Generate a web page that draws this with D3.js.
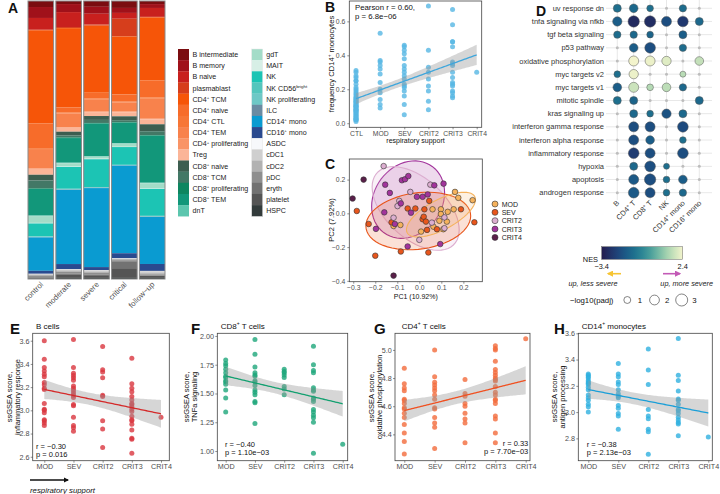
<!DOCTYPE html>
<html>
<head>
<meta charset="utf-8">
<script src="https://cdn.jsdelivr.net/npm/d3@7"></script>
<style>
  body { margin: 0; background: #fff; }
  text { font-family: "Liberation Sans", Arial, Helvetica, sans-serif; }
</style>
</head>
<body>
<svg id="fig" width="720" height="494"></svg>
<script>
// ---------- data: panel A (cell composition, % of cells) ----------
const conditions = ['control', 'moderate', 'severe', 'critical', 'follow\u2212up'];
const cellTypes = ['B intermediate', 'B memory', 'B naive', 'plasmablast', 'CD4^{+} TCM', 'CD4^{+} naive',
  'CD4^{+} CTL', 'CD4^{+} TEM', 'CD4^{+} proliferating', 'Treg', 'CD8^{+} naive', 'CD8^{+} TCM',
  'CD8^{+} proliferating', 'CD8^{+} TEM', 'dnT', 'gdT', 'MAIT', 'NK', 'NK CD56^{bright}', 'NK proliferating',
  'ILC', 'CD14^{+} mono', 'CD16^{+} mono', 'ASDC', 'cDC1', 'cDC2', 'pDC', 'eryth', 'platelet', 'HSPC'];
const cellColors = ['#7b0d10', '#a0111a', '#c8201e', '#d63e1c', '#f65508', '#f76c2a', '#f77636', '#f8824c',
  '#f99466', '#fbb598', '#3d5e50', '#437866', '#0e8660', '#12977a', '#5cc6ae', '#a3dcc8', '#d7efe6',
  '#1cc4b4', '#54c6bd', '#6ec8c6', '#6a8ba2', '#0a9bd1', '#2a4a8f', '#f7f8fb', '#cfcfcf', '#b2b2b2',
  '#8f8f8f', '#727272', '#555555', '#333b3b'];
const compControl  = [2.2, 4.0, 4.3, 0.2, 34.0, 9.3, 0.4, 6.8, 0.2, 2.1, 2.1, 2.9, 0.2, 9.7, 0.2, 2.5, 0.2, 4.7, 0.2, 0.1, 0.1, 12.2, 1.1, 0.1, 0.2, 0.5, 0.4, 0.2, 0.4, 0.1];
const compModerate = [1.1, 2.9, 5.4, 0.4, 28.6, 1.8, 0.4, 5.0, 0.2, 1.4, 1.4, 0.7, 0.2, 8.9, 0.2, 1.1, 0.2, 7.9, 0.2, 0.1, 0.1, 26.8, 1.8, 0.1, 0.4, 0.5, 0.7, 0.4, 1.1, 0.4];
const compSevere   = [2.1, 2.5, 3.9, 0.4, 24.2, 2.1, 0.4, 4.3, 0.2, 1.4, 1.4, 1.1, 0.2, 11.8, 0.2, 0.7, 0.2, 10.0, 0.2, 0.1, 0.1, 28.5, 1.1, 0.1, 0.4, 0.5, 0.7, 0.4, 0.7, 0.4];
const compCritical = [2.5, 1.8, 2.1, 6.4, 20.9, 2.5, 0.4, 3.2, 0.4, 1.4, 1.4, 0.7, 0.2, 7.4, 0.2, 1.1, 0.1, 6.4, 0.1, 0.1, 0.1, 31.6, 1.8, 0.1, 0.2, 0.4, 0.4, 2.5, 3.5, 0.4];
const compFollowup = [1.1, 1.4, 3.2, 0.2, 22.7, 6.1, 0.4, 7.2, 0.2, 1.8, 2.5, 1.4, 0.2, 16.9, 0.2, 1.8, 0.2, 9.7, 0.2, 0.1, 0.1, 16.9, 2.5, 0.1, 0.7, 0.4, 0.4, 0.2, 0.7, 0.4];
const compAll = [compControl, compModerate, compSevere, compCritical, compFollowup];

// ---------- data: panel B (frequency CD14+ monocytes) ----------
const bCats = ['CTL', 'MOD', 'SEV', 'CRIT2', 'CRIT3', 'CRIT4'];
const bCTL = [0.31, 0.30, 0.28, 0.27, 0.25, 0.25, 0.23, 0.21, 0.20, 0.19, 0.18, 0.17, 0.16, 0.15, 0.15, 0.14, 0.14, 0.13, 0.13, 0.12, 0.12, 0.11, 0.11, 0.10, 0.10, 0.10, 0.09, 0.09, 0.08, 0.08, 0.08, 0.07, 0.07, 0.06, 0.06, 0.05, 0.05, 0.04, 0.04, 0.03, 0.03, 0.02, 0.02, 0.02, 0.01];
const bMOD = [0.53, 0.37, 0.36, 0.34, 0.32, 0.29, 0.24, 0.20, 0.18, 0.14, 0.11, 0.09];
const bSEV = [0.46, 0.45, 0.43, 0.41, 0.38, 0.34, 0.32, 0.30, 0.28, 0.26, 0.23, 0.22, 0.21, 0.19, 0.16, 0.11, 0.05];
const bCRIT2 = [0.69, 0.43, 0.33, 0.30, 0.26, 0.22, 0.19, 0.13, 0.08];
const bCRIT3 = [0.67, 0.58, 0.48, 0.48, 0.45, 0.36, 0.35, 0.34, 0.30, 0.27, 0.24, 0.23, 0.22, 0.19, 0.18, 0.16, 0.15];
const bCRIT4 = [0.30];

// ---------- data: panel C (PCA, [PC1, PC2]) ----------
const pcaGroups = ['MOD', 'SEV', 'CRIT2', 'CRIT3', 'CRIT4'];
const pcaColors = ['#f5b25c', '#e8561c', '#dcaed0', '#a2349c', '#5a1f4a'];
const cMOD = [[-0.117, -0.075], [-0.086, -0.069], [0.06, 0.024], [0.098, 0.024], [0.129, 0.009], [0.156, 0.024], [0.098, -0.004], [0.064, -0.079], [0.091, -0.044], [0.125, -0.049], [0.109, -0.094], [0.008, -0.108], [0.162, 0.127], [0.177, 0.092], [0.242, 0.078]];
const cSEV = [[-0.284, 0.014], [-0.23, -0.063], [-0.2, -0.251], [-0.126, -0.053], [-0.084, -0.226], [-0.053, 0.029], [-0.018, 0.029], [0.045, 0.074], [0.023, 0.024], [0.189, 0.024], [0.015, -0.035], [0.02, -0.02], [0.03, -0.049], [0.035, -0.098], [0.08, -0.094], [0.041, -0.232], [0.25, -0.053]];
const cCRIT2 = [[-0.162, 0.28], [-0.117, -0.026], [-0.091, 0.074], [-0.099, 0.043], [-0.041, 0.127], [0.057, -0.055], [0.114, -0.088], [0.114, -0.024], [0.0, -0.157], [0.05, 0.17]];
const cCRIT3 = [[-0.197, -0.092], [-0.155, 0.17], [-0.134, 0.121], [-0.159, 0.006], [-0.111, -0.063], [-0.084, 0.059], [-0.079, 0.196], [-0.065, 0.202], [-0.05, 0.221], [-0.038, 0.004], [-0.053, -0.196], [-0.011, 0.098], [0.015, 0.098], [0.038, 0.112], [0.095, -0.182], [0.068, 0.166], [0.11, 0.176]];
const cCRIT4 = [[-0.303, 0.088], [-0.253, 0.20], [-0.117, -0.369]];
const ellipseLevel = 0.85;

// ---------- data: panel D (GSEA dot plot) ----------
const pathways = ['uv response dn', 'tnfa signaling via nfkb', 'tgf beta signaling', 'p53 pathway',
  'oxidative phosphorylation', 'myc targets v2', 'myc targets v1', 'mitotic spindle', 'kras signaling up',
  'interferon gamma response', 'interferon alpha response', 'inflammatory response', 'hypoxia', 'apoptosis',
  'androgen response'];
const dCells = ['B', 'CD4^{+} T', 'CD8^{+} T', 'NK', 'CD14^{+} mono', 'CD16^{+} mono'];
// NES, null = not significant
const nes = [
  [-1.1, -1.3, -1.1, null, -1.2, null],
  [-1.6, -3.0, -2.9, -2.0, -2.6, -1.3],
  [-1.2, -1.3, -1.4, null, -1.6, null],
  [null, -1.6, -2.0, null, -1.2, null],
  [null, 2.4, 2.3, 2.1, null, 1.7],
  [-1.1, 2.3, null, null, 1.55, null],
  [-1.6, 1.8, 1.5, 1.6, -1.3, null],
  [-1.1, -1.4, null, null, null, -1.3],
  [null, -1.3, -1.1, -1.9, -1.3, null],
  [null, -2.0, -2.0, null, -2.1, null],
  [null, -2.0, -1.6, null, -1.1, null],
  [null, -2.5, -2.0, null, -2.0, null],
  [null, -1.3, -2.0, -1.1, null, null],
  [null, -1.7, -2.0, -1.1, -1.6, null],
  [null, -1.7, -2.0, -1.1, -1.3, null]
];
// -log10(padj)
const logPadj = [
  [1.33, 1.56, 0.93, null, 1.12, null],
  [1.81, 2.68, 2.68, 2.08, 2.37, 1.33],
  [1.12, 1.12, 0.93, null, 1.33, null],
  [null, 1.56, 2.37, null, 1.12, null],
  [null, 2.08, 2.08, 1.81, null, 1.56],
  [0.93, 1.81, null, null, 0.75, null],
  [1.56, 2.08, 0.93, 1.56, 1.12, null],
  [1.33, 1.33, null, null, null, 1.33],
  [null, 1.33, 0.93, 1.81, 1.33, null],
  [null, 2.08, 2.08, null, 2.37, null],
  [null, 2.08, 1.56, null, 0.93, null],
  [null, 2.37, 2.08, null, 2.37, null],
  [null, 1.33, 2.37, 0.75, null, null],
  [null, 2.08, 2.68, 0.93, 1.56, null],
  [null, 2.37, 2.08, 0.93, 1.12, null]
];
const nesColorStops = ['#241c4e', '#1f4580', '#16708f', '#3f9c9a', '#a6d5ad', '#f3f4cc'];
const sizeLegend = [1, 2, 3];

// ---------- data: panels E-H (ssGSEA scores) ----------
const sevCats = ['MOD', 'SEV', 'CRIT2', 'CRIT3', 'CRIT4'];
const eMOD = [3.60, 3.44, 3.37, 3.34, 3.31, 3.29, 3.24, 3.22, 3.19, 3.18, 3.06, 3.01, 3.00, 2.98, 2.92, 2.91, 2.89, 2.87];
const eSEV = [3.61, 3.37, 3.32, 3.30, 3.28, 3.26, 3.21, 3.19, 3.17, 3.15, 3.13, 3.11, 3.05, 3.04, 2.94, 2.87, 2.85, 2.82];
const eCRIT2 = [3.55, 3.35, 3.33, 3.28, 3.13, 3.12, 2.91, 2.84, 2.68];
const eCRIT3 = [3.45, 3.23, 3.19, 3.16, 3.12, 3.09, 3.06, 3.05, 3.03, 3.01, 2.99, 2.95, 2.92, 2.91, 2.88, 2.83, 2.76, 2.75, 2.63];
const eCRIT4 = [2.94];
const fMOD = [1.79, 1.76, 1.74, 1.71, 1.68, 1.65, 1.64, 1.61, 1.60, 1.58, 1.53, 1.46, 1.34];
const fSEV = [1.97, 1.84, 1.73, 1.68, 1.66, 1.65, 1.61, 1.60, 1.57, 1.53, 1.51, 1.49, 1.43, 1.42, 1.24];
const fCRIT2 = [1.71, 1.69, 1.68, 1.66, 1.64, 1.56, 1.54, 1.49];
const fCRIT3 = [1.91, 1.75, 1.70, 1.68, 1.55, 1.53, 1.52, 1.46, 1.45, 1.43, 1.36, 1.34, 1.31, 1.29, 1.25, 0.98];
const fCRIT4 = [1.06];
const gMOD = [4.87, 4.76, 4.73, 4.71, 4.65, 4.64, 4.62, 4.59, 4.58, 4.55, 4.52, 4.47, 4.41, 4.35, 4.26];
const gSEV = [5.00, 4.81, 4.77, 4.75, 4.73, 4.71, 4.68, 4.65, 4.59, 4.58, 4.52, 4.48, 4.45, 4.30];
const gCRIT2 = [4.79, 4.69, 4.67, 4.62, 4.60, 4.55, 4.51, 4.48, 4.34];
const gCRIT3 = [5.03, 5.01, 5.00, 4.92, 4.86, 4.84, 4.82, 4.80, 4.79, 4.78, 4.74, 4.70, 4.68, 4.65, 4.64, 4.62, 4.53, 4.51, 4.41, 4.34];
const gCRIT4 = [5.08];
const hMOD = [3.29, 3.28, 3.27, 3.26, 3.24, 3.23, 3.22, 3.21, 3.19, 3.17, 3.13, 3.11, 3.09, 3.06, 3.04, 3.00];
const hSEV = [3.37, 3.29, 3.27, 3.23, 3.21, 3.17, 3.14, 3.12, 3.11, 3.05, 3.03, 2.99, 2.97, 2.87];
const hCRIT2 = [3.48, 3.32, 3.21, 3.02, 2.97, 2.95, 2.87, 2.85, 2.68];
const hCRIT3 = [3.56, 3.28, 3.24, 3.16, 3.10, 3.09, 3.06, 3.02, 3.01, 2.99, 2.96, 2.94, 2.92, 2.91, 2.82];
const hCRIT4 = [2.81];

// ---------- helpers ----------
var svg = d3.select('#fig');

function rich(sel, str, fs) {
  var parts = str.split(/(\^\{[^}]*\})/).filter(function(p) { return p.length; });
  var sup = false;
  parts.forEach(function(p) {
    if (p.startsWith('^{')) {
      sel.append('tspan').attr('dy', -fs * 0.38).attr('font-size', fs * 0.62).text(p.slice(2, -1));
      sup = true;
    } else {
      sel.append('tspan').attr('dy', sup ? fs * 0.38 : 0).text(p);
      sup = false;
    }
  });
  return sel;
}

function label(x, y, str, opts) {
  opts = opts || {};
  var fs = opts.size || 8;
  var t = svg.append('text').attr('x', x).attr('y', y).attr('font-size', fs)
    .attr('fill', opts.fill || '#111').attr('text-anchor', opts.anchor || 'start');
  if (opts.weight) t.attr('font-weight', opts.weight);
  if (opts.italic) t.attr('font-style', 'italic');
  if (opts.rotate != null) t.attr('x', 0).attr('y', 0).attr('transform', 'translate(' + x + ',' + y + ') rotate(' + opts.rotate + ')');
  return rich(t, str, fs);
}

function panelLetter(x, y, s, size) {
  svg.append('text').attr('x', x).attr('y', y).attr('font-size', size || 14).attr('font-weight', 'bold')
    .attr('fill', '#111').text(s);
}

function styleAxis(ag, fs) {
  ag.select('.domain').remove();
  ag.selectAll('.tick line').attr('stroke', '#444').attr('stroke-width', 0.6);
  ag.selectAll('.tick text').attr('fill', '#4d4d4d').attr('font-size', fs)
    .attr('font-family', '"Liberation Sans", Arial, sans-serif');
}

// ordinary least squares with 95% confidence band, x = category index
function linFit(groups) {
  var xs = [], ys = [];
  groups.forEach(function(vals, i) { vals.forEach(function(v) { xs.push(i); ys.push(v); }); });
  var n = xs.length, mx = d3.mean(xs), my = d3.mean(ys);
  var sxx = d3.sum(xs, function(x) { return (x - mx) * (x - mx); });
  var sxy = d3.sum(xs, function(x, k) { return (x - mx) * (ys[k] - my); });
  var b = sxy / sxx, a = my - b * mx;
  var sse = d3.sum(xs, function(x, k) { var r = ys[k] - a - b * x; return r * r; });
  var s = Math.sqrt(sse / (n - 2));
  var tq = 1.96 + 2.4 / (n - 2);
  return function(x) {
    var yh = a + b * x;
    var se = s * Math.sqrt(1 / n + (x - mx) * (x - mx) / sxx);
    return { y: yh, lo: yh - tq * se, hi: yh + tq * se };
  };
}

function scatterPanel(o) {
  var g = svg.append('g');
  var x = d3.scalePoint().domain(o.cats).range([o.xFirst, o.xLast]);
  var xi = d3.scaleLinear().domain([0, o.cats.length - 1]).range([o.xFirst, o.xLast]);
  var y = d3.scaleLinear().domain(o.yDomain).range([o.bottom, o.top]);

  var pts = [];
  o.groups.forEach(function(vals, i) { vals.forEach(function(v) { pts.push({ c: o.cats[i], v: v }); }); });
  g.append('g').selectAll('circle').data(pts).join('circle')
    .attr('cx', function(d) { return x(d.c); })
    .attr('cy', function(d) { return y(d.v); })
    .attr('r', o.r || 2.5)
    .attr('fill', o.color).attr('fill-opacity', 0.8);

  var fit = linFit(o.groups);
  var samples = d3.range(0, o.cats.length - 1 + 1e-9, 0.05).map(function(t) { var f = fit(t); f.t = t; return f; });
  g.append('path').datum(samples)
    .attr('d', d3.area().x(function(d) { return xi(d.t); }).y0(function(d) { return y(d.lo); }).y1(function(d) { return y(d.hi); }))
    .attr('fill', '#999').attr('fill-opacity', 0.4);
  g.append('path').datum(samples)
    .attr('d', d3.line().x(function(d) { return xi(d.t); }).y(function(d) { return y(d.y); }))
    .attr('fill', 'none').attr('stroke', o.lineColor).attr('stroke-width', 1.3);

  g.append('rect').attr('x', o.left).attr('y', o.top).attr('width', o.right - o.left).attr('height', o.bottom - o.top)
    .attr('fill', 'none').attr('stroke', '#444').attr('stroke-width', 0.8);

  var ay = g.append('g').attr('transform', 'translate(' + o.left + ',0)')
    .call(d3.axisLeft(y).tickValues(o.yTicks).tickFormat(d3.format(o.fmt)).tickSize(2).tickPadding(o.padY || 1.2));
  styleAxis(ay, o.tickFs);
  var ax = g.append('g').attr('transform', 'translate(0,' + o.bottom + ')')
    .call(d3.axisBottom(x).tickSize(2).tickPadding(1.5));
  styleAxis(ax, o.tickFs);
  return { x: x, y: y };
}

// MASS::cov.trob style robust scatter (t, nu = 5), as used by stat_ellipse
function covTrob(pts) {
  var n = pts.length, p = 2, nu = 5;
  var loc = [d3.mean(pts, function(d) { return d[0]; }), d3.mean(pts, function(d) { return d[1]; })];
  var w = pts.map(function() { return 1; });
  var X;
  for (var it = 0; it < 25; it++) {
    var w0 = w.slice();
    X = pts.map(function(d) { return [d[0] - loc[0], d[1] - loc[1]]; });
    var sw = d3.sum(w), a = 0, b = 0, c = 0;
    X.forEach(function(v, i) { a += w[i] * v[0] * v[0]; b += w[i] * v[0] * v[1]; c += w[i] * v[1] * v[1]; });
    a /= sw; b /= sw; c /= sw;
    var det = a * c - b * b;
    w = X.map(function(v) { var q = (c * v[0] * v[0] - 2 * b * v[0] * v[1] + a * v[1] * v[1]) / det; return (nu + p) / (nu + q); });
    var sw2 = d3.sum(w);
    loc = [d3.sum(pts, function(d, i) { return w[i] * d[0]; }) / sw2, d3.sum(pts, function(d, i) { return w[i] * d[1]; }) / sw2];
    if (d3.max(w, function(v, i) { return Math.abs(v - w0[i]); }) < 0.01) break;
  }
  var A = 0, B = 0, C = 0;
  X.forEach(function(v, i) { A += w[i] * v[0] * v[0]; B += w[i] * v[0] * v[1]; C += w[i] * v[1] * v[1]; });
  return { loc: loc, cov: [A / n, B / n, C / n] };
}

// ================= Panel A =================
panelLetter(8, 13, 'A');
var aTable = conditions.map(function(c, i) {
  var row = { cond: c };
  var tot = d3.sum(compAll[i]);
  cellTypes.forEach(function(k, j) { row[k] = compAll[i][j] / tot; });
  return row;
});
var aStack = d3.stack().keys(cellTypes)(aTable);
var ax0 = d3.scaleBand().domain(conditions).range([28, 165]).paddingInner(0.08);
var ay0 = d3.scaleLinear().domain([0, 1]).range([1, 279]);
var aColor = d3.scaleOrdinal().domain(cellTypes).range(cellColors);

svg.append('g').selectAll('g').data(aStack).join('g')
  .attr('fill', function(d) { return aColor(d.key); })
  .selectAll('rect').data(function(d) { return d; }).join('rect')
  .attr('x', function(d) { return ax0(d.data.cond); })
  .attr('width', ax0.bandwidth())
  .attr('y', function(d) { return ay0(d[0]); })
  .attr('height', function(d) { return Math.max(0, ay0(d[1]) - ay0(d[0])); });
svg.append('g').selectAll('rect').data(conditions).join('rect')
  .attr('x', function(d) { return ax0(d); }).attr('width', ax0.bandwidth())
  .attr('y', ay0(0)).attr('height', ay0(1) - ay0(0))
  .attr('fill', 'none').attr('stroke', '#8a8a8a').attr('stroke-width', 1);
svg.append('g').selectAll('text').data(conditions).join('text')
  .attr('transform', function(d) { return 'translate(' + (ax0(d) + ax0.bandwidth() / 2 + 3) + ',285) rotate(-45)'; })
  .attr('text-anchor', 'end').attr('font-size', 7.8).attr('fill', '#4d4d4d')
  .text(function(d) { return d; });

// legend A
var legRowH = 11.15;
cellTypes.forEach(function(k, j) {
  var col = j < 15 ? 0 : 1, row = j % 15;
  var sx = col === 0 ? 178 : 251.7;
  var sy = 49 + row * legRowH;
  svg.append('rect').attr('x', sx).attr('y', sy).attr('width', 11).attr('height', legRowH + 0.2)
    .attr('fill', cellColors[j]);
  label(sx + 14.5, sy + legRowH / 2 + 2.5, k, { size: 7.1, fill: '#222' });
});
svg.append('rect').attr('x', 251.7).attr('y', 49).attr('width', 11).attr('height', 15 * legRowH)
  .attr('fill', 'none').attr('stroke', '#e6e6e6').attr('stroke-width', 0.5);

// ================= Panel B =================
panelLetter(325, 12, 'B');
scatterPanel({
  cats: bCats, groups: [bCTL, bMOD, bSEV, bCRIT2, bCRIT3, bCRIT4],
  left: 349.3, right: 481.7, top: 1, bottom: 127.3, xFirst: 356, xLast: 476.7,
  yDomain: [-0.024, 0.72], yTicks: [0, 0.2, 0.4, 0.6], fmt: '.1f', tickFs: 6.8, padY: 2,
  color: '#56b6e3', lineColor: '#3ea6dc', r: 2.5
});
label(355, 10, 'Pearson r = 0.60,', { size: 7.8 });
label(355, 19, 'p = 6.8e\u221206', { size: 7.8 });
label(415.5, 142.5, 'respiratory support', { size: 7, anchor: 'middle' });
label(334, 64, 'frequency CD14^{+} monocytes', { size: 7.6, anchor: 'middle', rotate: -90 });

// ================= Panel C =================
panelLetter(325, 169, 'C');
(function() {
  var cx = d3.scaleLinear().domain([-0.318, 0.286]).range([349.3, 482.3]);
  var cy = d3.scaleLinear().domain([-0.405, 0.322]).range([281.7, 159]);
  var groups = [cMOD, cSEV, cCRIT2, cCRIT3, cCRIT4];
  var col = d3.scaleOrdinal().domain(pcaGroups).range(pcaColors);

  function ellipsePts(pts, level) {
    var n = pts.length, v = covTrob(pts);
    var df = n - 1;
    var fq = (df / 2) * (Math.pow(1 - level, -2 / df) - 1);
    var rad = Math.sqrt(2 * fq);
    var a = Math.sqrt(v.cov[0]), b = v.cov[1] / a, c = Math.sqrt(Math.max(v.cov[2] - b * b, 0));
    return d3.range(0, 61).map(function(k) {
      var t = k / 60 * 2 * Math.PI, u = Math.cos(t), s = Math.sin(t);
      return [v.loc[0] + rad * u * a, v.loc[1] + rad * (u * b + s * c)];
    });
  }
  var line = d3.line().x(function(d) { return cx(d[0]); }).y(function(d) { return cy(d[1]); });
  var eg = svg.append('g');
  [3, 2, 1, 0].forEach(function(i) {
    eg.append('path').attr('d', line(ellipsePts(groups[i], ellipseLevel)) + 'Z')
      .attr('fill', pcaColors[i]).attr('fill-opacity', 0.18)
      .attr('stroke', pcaColors[i]).attr('stroke-width', 1.1);
  });
  var pts = [];
  groups.forEach(function(g, i) { g.forEach(function(p) { pts.push({ g: pcaGroups[i], p: p }); }); });
  svg.append('g').selectAll('circle').data(pts).join('circle')
    .attr('cx', function(d) { return cx(d.p[0]); }).attr('cy', function(d) { return cy(d.p[1]); })
    .attr('r', 2.8).attr('fill', function(d) { return col(d.g); })
    .attr('stroke', '#333').attr('stroke-width', 0.6);

  svg.append('rect').attr('x', 349.3).attr('y', 159).attr('width', 133).attr('height', 122.7)
    .attr('fill', 'none').attr('stroke', '#444').attr('stroke-width', 0.8);
  var ay = svg.append('g').attr('transform', 'translate(349.3,0)')
    .call(d3.axisLeft(cy).tickValues([-0.4, -0.2, 0, 0.2]).tickFormat(d3.format('.1f')).tickSize(2).tickPadding(2));
  styleAxis(ay, 6.8);
  var axb = svg.append('g').attr('transform', 'translate(0,281.7)')
    .call(d3.axisBottom(cx).tickValues([-0.3, -0.2, -0.1, 0, 0.1, 0.2]).tickFormat(d3.format('.1f')).tickSize(2).tickPadding(1.5));
  styleAxis(axb, 6.8);
  label(415.8, 298.5, 'PC1 (10.92%)', { size: 7, anchor: 'middle' });
  label(334, 220, 'PC2 (7.92%)', { size: 7.6, anchor: 'middle', rotate: -90 });

  pcaGroups.forEach(function(gname, i) {
    var yy = 204 + i * 8.35;
    svg.append('circle').attr('cx', 495).attr('cy', yy).attr('r', 3)
      .attr('fill', pcaColors[i]).attr('stroke', '#333').attr('stroke-width', 0.6);
    label(501.7, yy + 2.5, gname, { size: 7, fill: '#222' });
  });
})();

// ================= Panel D =================
panelLetter(536, 15.5, 'D');
(function() {
  var dx = d3.scalePoint().domain(dCells).range([617.3, 699.3]);
  var dy = d3.scalePoint().domain(pathways).range([8.3, 192.7]);
  var interp = d3.interpolateRgbBasis(nesColorStops);
  var nesScale = d3.scaleLinear().domain([-3.4, 2.4]).range([0, 1]).clamp(true);
  var color = function(v) { return interp(nesScale(v)); };
  var size = d3.scaleSqrt().domain([0, 3]).range([0, 6]);

  var grid = svg.append('g').attr('stroke', '#e2e2e2').attr('stroke-width', 0.8);
  pathways.forEach(function(p) { grid.append('line').attr('x1', 606).attr('x2', 712).attr('y1', dy(p)).attr('y2', dy(p)); });
  dCells.forEach(function(c) { grid.append('line').attr('x1', dx(c)).attr('x2', dx(c)).attr('y1', 0).attr('y2', 200); });

  var cells = [];
  pathways.forEach(function(p, i) {
    dCells.forEach(function(c, j) { cells.push({ p: p, c: c, nes: nes[i][j], lp: logPadj[i][j] }); });
  });
  svg.append('g').selectAll('circle').data(cells).join('circle')
    .attr('cx', function(d) { return dx(d.c); }).attr('cy', function(d) { return dy(d.p); })
    .attr('r', function(d) { return d.nes == null ? 1.5 : size(d.lp); })
    .attr('fill', function(d) { return d.nes == null ? '#bdbdbd' : color(d.nes); })
    .attr('stroke', function(d) { return d.nes == null ? 'none' : '#555'; })
    .attr('stroke-width', 0.5);

  svg.append('g').selectAll('text').data(pathways).join('text')
    .attr('x', 604).attr('y', function(d) { return dy(d) + 2.6; })
    .attr('text-anchor', 'end').attr('font-size', 7.5).attr('fill', '#333').text(function(d) { return d; });
  dCells.forEach(function(c) {
    label(dx(c) + 2.5, 203.5, c, { size: 7.4, fill: '#333', anchor: 'end', rotate: -45 });
  });

  // colorbar
  var defs = svg.append('defs');
  var grad = defs.append('linearGradient').attr('id', 'nesgrad');
  d3.range(0, 11).forEach(function(k) {
    grad.append('stop').attr('offset', (k * 10) + '%').attr('stop-color', interp(k / 10));
  });
  var cb = d3.scaleLinear().domain([-3.4, 2.4]).range([601.7, 682.7]);
  svg.append('rect').attr('x', cb(-3.4)).attr('y', 246.7).attr('width', cb(2.4) - cb(-3.4)).attr('height', 12.6)
    .attr('fill', 'url(#nesgrad)').attr('stroke', '#666').attr('stroke-width', 0.5);
  label(598, 262, 'NES', { size: 7.4, anchor: 'end' });
  [-3.4, 2.4].forEach(function(v) {
    label(cb(v), 268.5, d3.format('.1f')(v), { size: 7.4, anchor: 'middle' });
  });

  // arrows
  defs.append('marker').attr('id', 'ay').attr('viewBox', '0 0 10 10').attr('refX', 8).attr('refY', 5)
    .attr('markerWidth', 4).attr('markerHeight', 4).attr('orient', 'auto')
    .append('path').attr('d', 'M0,0L10,5L0,10Z').attr('fill', '#f6c433');
  defs.append('marker').attr('id', 'am').attr('viewBox', '0 0 10 10').attr('refX', 8).attr('refY', 5)
    .attr('markerWidth', 4).attr('markerHeight', 4).attr('orient', 'auto')
    .append('path').attr('d', 'M0,0L10,5L0,10Z').attr('fill', '#c35ab6');
  svg.append('line').attr('x1', 621).attr('x2', 608).attr('y1', 273.7).attr('y2', 273.7)
    .attr('stroke', '#f6c433').attr('stroke-width', 1.6).attr('marker-end', 'url(#ay)');
  svg.append('line').attr('x1', 663).attr('x2', 680).attr('y1', 273.7).attr('y2', 273.7)
    .attr('stroke', '#c35ab6').attr('stroke-width', 1.6).attr('marker-end', 'url(#am)');
  label(593, 286, 'up, less severe', { size: 7.3, anchor: 'middle', italic: true, fill: '#222' });
  label(686.7, 286, 'up, more severe', { size: 7.3, anchor: 'middle', italic: true, fill: '#222' });

  // size legend
  label(591.7, 302.8, '\u2212log10(padj)', { size: 7.8, anchor: 'middle' });
  var sxs = d3.scalePoint().domain(sizeLegend).range([627.3, 681.7]);
  sizeLegend.forEach(function(v) {
    svg.append('circle').attr('cx', sxs(v)).attr('cy', 300).attr('r', size(v))
      .attr('fill', '#fff').attr('stroke', '#333').attr('stroke-width', 0.6);
    label(sxs(v) + 12.7, 302.8, String(v), { size: 7.8, anchor: 'middle' });
  });
})();

// ================= Panels E-H =================
var bottomPanels = [
  { letter: 'E', lx: 10, title: 'B cells', tx: 36, groups: [eMOD, eSEV, eCRIT2, eCRIT3, eCRIT4],
    left: 32.7, right: 169.3, xFirst: 44.3, xLast: 161, yDomain: [2.566, 3.664], yTicks: [2.6, 2.8, 3.0, 3.2, 3.4, 3.6], fmt: '.1f',
    color: '#d9363e', lineColor: '#d42a2a', yl1: 11.5, yl2: 19.5, ytitle: 'inflammatory response',
    stats: ['r = \u22120.30', 'p = 0.016'], sx: 36, sy: [448.8, 456.8], anchor: 'start' },
  { letter: 'F', lx: 191, title: 'CD8^{+} T cells', tx: 220.7, groups: [fMOD, fSEV, fCRIT2, fCRIT3, fCRIT4],
    left: 217.3, right: 347.7, xFirst: 225.7, xLast: 342.7, yDomain: [0.916, 2.023], yTicks: [1.0, 1.25, 1.5, 1.75, 2.0], fmt: '.2f',
    color: '#1ea67a', lineColor: '#13a070', yl1: 189, yl2: 197, ytitle: 'TNFa signaling',
    stats: ['r = \u22120.40', 'p = 1.10e\u221203'], sx: 225, sy: [447, 455], anchor: 'start' },
  { letter: 'G', lx: 374, title: 'CD4^{+} T cells', tx: 401.7, groups: [gMOD, gSEV, gCRIT2, gCRIT3, gCRIT4],
    left: 395, right: 530, xFirst: 404.3, xLast: 525.7, yDomain: [4.213, 5.118], yTicks: [4.4, 4.6, 4.8, 5.0], fmt: '.1f',
    color: '#f26b3c', lineColor: '#f05020', yl1: 373.5, yl2: 381.5, ytitle: 'oxidative phosphorylation',
    stats: ['r = 0.33', 'p = 7.70e\u221203'], sx: 528.3, sy: [446.3, 454.3], anchor: 'end' },
  { letter: 'H', lx: 554, title: 'CD14^{+} monocytes', tx: 581.7, groups: [hMOD, hSEV, hCRIT2, hCRIT3, hCRIT4],
    left: 578.3, right: 712.3, xFirst: 588.3, xLast: 708.3, yDomain: [2.63, 3.6], yTicks: [2.8, 3.0, 3.2, 3.4, 3.6], fmt: '.1f',
    color: '#2fb0e0', lineColor: '#1a9fd8', yl1: 556.5, yl2: 564.5, ytitle: 'antigen processing',
    stats: ['r = \u22120.38', 'p = 2.13e\u221203'], sx: 586.7, sy: [446.5, 454.5], anchor: 'start' }
];
bottomPanels.forEach(function(p) {
  panelLetter(p.lx, 333.5, p.letter, 15);
  label(p.tx, 328.5, p.title, { size: 8 });
  scatterPanel({
    cats: sevCats, groups: p.groups, left: p.left, right: p.right, top: 333.3, bottom: 460.7,
    xFirst: p.xFirst, xLast: p.xLast, yDomain: p.yDomain, yTicks: p.yTicks, fmt: p.fmt, tickFs: 7.2,
    color: p.color, lineColor: p.lineColor, r: 2.5
  });
  label(p.yl1, 397, 'ssGSEA score,', { size: 7.5, anchor: 'middle', rotate: -90 });
  label(p.yl2, 397, p.ytitle, { size: 7.5, anchor: 'middle', rotate: -90 });
  label(p.sx, p.sy[0], p.stats[0], { size: 7.5, anchor: p.anchor });
  label(p.sx, p.sy[1], p.stats[1], { size: 7.5, anchor: p.anchor });
});

// respiratory support arrow under E
svg.append('defs').append('marker').attr('id', 'ak').attr('viewBox', '0 0 10 10').attr('refX', 8).attr('refY', 5)
  .attr('markerWidth', 4).attr('markerHeight', 4).attr('orient', 'auto')
  .append('path').attr('d', 'M0,0L10,5L0,10Z').attr('fill', '#111');
svg.append('line').attr('x1', 30).attr('x2', 68).attr('y1', 480).attr('y2', 480)
  .attr('stroke', '#111').attr('stroke-width', 1.3).attr('marker-end', 'url(#ak)');
label(30, 493, 'respiratory support', { size: 7.8, italic: true });
</script>
</body>
</html>
